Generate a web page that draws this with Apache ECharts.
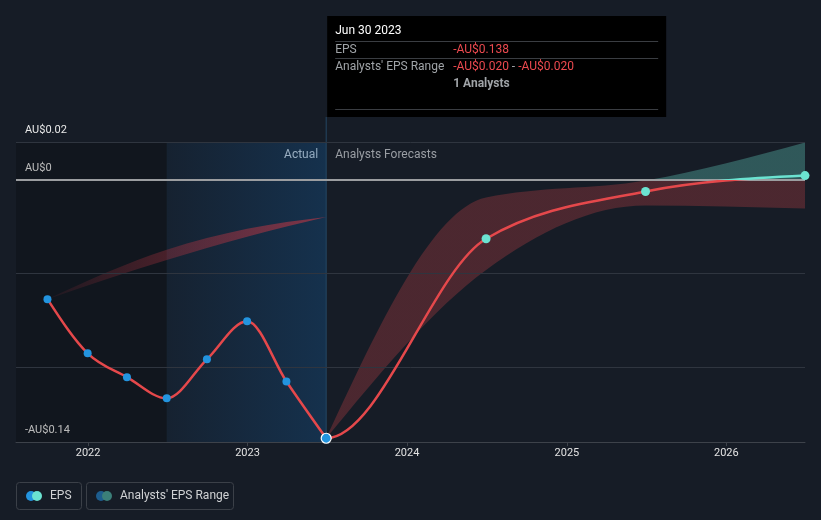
<!DOCTYPE html>
<html><head><meta charset="utf-8">
<script src="https://cdn.jsdelivr.net/npm/echarts@6/dist/echarts.min.js"></script>
<style>html,body{margin:0;padding:0;background:#161c26}#c{width:821px;height:520px}</style>
</head><body><div id="c"></div>
<script>
// ---- data ----
const actualDates = ['2021-09-30','2021-12-31','2022-03-31','2022-06-30','2022-09-30','2022-12-31','2023-03-31','2023-06-30'];
const actualEps = [-0.0638,-0.0927,-0.1054,-0.1167,-0.0959,-0.0756,-0.1077,-0.138];
const forecastDates = ['2023-06-30','2024-06-30','2025-06-30','2026-06-30'];
const forecastEps = [-0.138,-0.0316,-0.0064,0.0021];
const forecastLow = [-0.138,-0.0482,-0.0139,-0.0155];
const forecastHigh = [-0.138,-0.0096,-0.0005,0.0198];
const pastRangeDates = ['2021-09-30','2022-06-30','2022-12-31','2023-06-30'];
const pastLow = [-0.0638,-0.0429,-0.0305,-0.020];
const pastHigh = [-0.0638,-0.0375,-0.0263,-0.020];
const gridValues = [0.02,-0.05,-0.1];
const zeroValue = 0;
const yMin = -0.14, yMax = 0.02;
const yLabelValues = [0.02,0,-0.14];
const yLabelTexts = ['AU$0.02','AU$0','-AU$0.14'];
const darkRegion = ['2021-07-20','2022-06-30'];
const actualRegion = ['2022-06-30','2023-06-30'];
const xRange = ['2021-07-20','2026-06-30'];
const highlightDate = '2023-06-30';

const P = s => echarts.time.parse(s);
const pair = (d, v) => d.map((x, i) => [P(x), v[i]]);

const RED = '#e5484b', TEAL = '#6be3d1', BLUE = '#2394df';

// monotone-x cubic helpers (pixel space)
function tangents(pts) {
  const n = pts.length, h = [], s = [], t = new Array(n).fill(0);
  for (let i = 0; i < n - 1; i++) { h[i] = pts[i + 1][0] - pts[i][0]; s[i] = (pts[i + 1][1] - pts[i][1]) / h[i]; }
  const sg = x => x < 0 ? -1 : 1;
  for (let i = 1; i < n - 1; i++) {
    const p = (s[i - 1] * h[i] + s[i] * h[i - 1]) / (h[i - 1] + h[i]);
    t[i] = (sg(s[i - 1]) + sg(s[i])) * Math.min(Math.abs(s[i - 1]), Math.abs(s[i]), 0.5 * Math.abs(p)) || 0;
  }
  if (n === 2) { t[0] = t[1] = s[0]; } else { t[0] = (3 * s[0] - t[1]) / 2; t[n - 1] = (3 * s[n - 2] - t[n - 2]) / 2; }
  return t;
}
function curve(pts, start, t) {
  let d = '';
  for (let i = start; i < pts.length - 1; i++) {
    const [x0, y0] = pts[i], [x1, y1] = pts[i + 1], dx = (x1 - x0) / 3;
    d += ' C' + (x0 + dx) + ',' + (y0 + dx * t[i]) + ' ' + (x1 - dx) + ',' + (y1 - dx * t[i + 1]) + ' ' + x1 + ',' + y1;
  }
  return d;
}
function curveBack(pts, t) {
  let d = '';
  for (let i = pts.length - 2; i >= 0; i--) {
    const [x0, y0] = pts[i], [x1, y1] = pts[i + 1], dx = (x1 - x0) / 3;
    d += ' C' + (x1 - dx) + ',' + (y1 - dx * t[i + 1]) + ' ' + (x0 + dx) + ',' + (y0 + dx * t[i]) + ' ' + x0 + ',' + y0;
  }
  return d;
}
function splitGrad(api, above, below) {
  const y0 = api.coord([0, yMax])[1], y1 = api.coord([0, yMin])[1], yz = api.coord([0, zeroValue])[1];
  const f = (yz - y0) / (y1 - y0);
  return {type: 'linear', global: true, x: 0, y: y0, x2: 0, y2: y1,
    colorStops: [{offset: 0, color: above}, {offset: f, color: above}, {offset: f, color: below}, {offset: 1, color: below}]};
}
function lineSeries(dates, vals, ctxDates, ctxVals, strokeFn, z) {
  return {
    type: 'custom', coordinateSystem: 'cartesian2d', silent: true, clip: false, z,
    data: [[P(dates[0]), vals[0]]],
    renderItem: (params, api) => {
      const all = pair(ctxDates.concat(dates), ctxVals.concat(vals)).map(p => api.coord(p));
      const t = tangents(all), k = ctxDates.length;
      return {type: 'path', shape: {pathData: 'M' + all[k][0] + ',' + all[k][1] + curve(all, k, t)},
        style: {fill: 'none', stroke: strokeFn(api), lineWidth: 2.5, lineJoin: 'round', lineCap: 'round'}};
    }
  };
}
function bandSeries(dates, lo, hi, fillFn, z) {
  return {
    type: 'custom', coordinateSystem: 'cartesian2d', silent: true, clip: false, z,
    data: [[P(dates[0]), lo[0]]],
    renderItem: (params, api) => {
      const up = pair(dates, hi).map(p => api.coord(p));
      const dn = pair(dates, lo).map(p => api.coord(p));
      const n = up.length;
      const d = 'M' + up[0][0] + ',' + up[0][1] + curve(up, 0, tangents(up)) +
        ' L' + dn[n - 1][0] + ',' + dn[n - 1][1] + curveBack(dn, tangents(dn)) + ' Z';
      return {type: 'path', shape: {pathData: d}, style: {fill: fillFn(api), stroke: 'none'}};
    }
  };
}

const chart = echarts.init(document.getElementById('c'));
const actualMarks = pair(actualDates, actualEps).map((p, i, a) => i === a.length - 1
  ? {value: p, symbolSize: 10, itemStyle: {color: BLUE, borderColor: '#ffffff', borderWidth: 1.2}} : p);

chart.setOption({
  backgroundColor: '#161c26',
  animation: false,
  textStyle: {fontFamily: 'Roboto'},
  grid: {left: 16, right: 16, top: 142, bottom: 78},
  xAxis: {
    type: 'time', min: P(xRange[0]), max: P(xRange[1]),
    minInterval: 365 * 864e5, maxInterval: 366 * 864e5,
    axisLine: {onZero: false, lineStyle: {color: '#3d424a', width: 1}},
    axisTick: {show: true, length: 4, lineStyle: {color: '#3d424a'}},
    axisLabel: {formatter: '{yyyy}', color: '#e2e2e2', fontSize: 11, margin: 6},
    splitLine: {show: false}
  },
  yAxis: {
    type: 'value', min: yMin, max: yMax, interval: 0.01,
    splitLine: {show: false}, axisLine: {show: false}, axisTick: {show: false},
    axisLabel: {
      inside: true, margin: 9, color: '#e8e8e8', fontSize: 11,
      verticalAlign: 'bottom', padding: [0, 0, 6, 0],
      formatter: v => {
        const i = yLabelValues.findIndex(t => Math.round(t * 100) === Math.round(v * 100));
        return i >= 0 ? yLabelTexts[i] : '';
      }
    }
  },
  series: [
    bandSeries(pastRangeDates, pastLow, pastHigh, api => {
      const x0 = api.coord([P(pastRangeDates[0]), 0])[0], x1 = api.coord([P(pastRangeDates[pastRangeDates.length - 1]), 0])[0];
      return {type: 'linear', global: true, x: x0, y: 0, x2: x1, y2: 0,
        colorStops: [{offset: 0, color: 'rgba(200,55,68,0.08)'}, {offset: 1, color: 'rgba(200,55,68,0.6)'}]};
    }, 3),
    bandSeries(forecastDates, forecastLow, forecastHigh, api => splitGrad(api, 'rgba(107,227,209,0.3)', 'rgba(229,72,75,0.26)'), 3),
    lineSeries(actualDates, actualEps, [], [], () => RED, 6),
    lineSeries(forecastDates, forecastEps, actualDates.slice(-2, -1), actualEps.slice(-2, -1), api => splitGrad(api, TEAL, RED), 6),
    { // actual markers; hosts shaded regions and grid lines
      type: 'scatter', data: actualMarks, symbolSize: 8, itemStyle: {color: BLUE, opacity: 1}, z: 8, silent: true,
      markArea: {
        silent: true,
        data: [
          [{xAxis: P(darkRegion[0]), itemStyle: {color: 'rgba(0,0,0,0.2)'}}, {xAxis: P(darkRegion[1])}],
          [{xAxis: P(actualRegion[0]), itemStyle: {color: {type: 'linear', x: 0, y: 0, x2: 1, y2: 0,
            colorStops: [{offset: 0, color: 'rgba(20,75,125,0.12)'}, {offset: 1, color: 'rgba(20,75,125,0.45)'}]}}},
           {xAxis: P(actualRegion[1])}]
        ]
      },
      markLine: {
        silent: true, symbol: 'none', label: {show: false},
        data: gridValues.map(v => ({yAxis: v, lineStyle: {color: '#2f353f', width: 1, type: 'solid', opacity: 1}}))
          .concat([{yAxis: zeroValue, lineStyle: {color: '#9b9da0', width: 2, type: 'solid', opacity: 1}}])
      }
    },
    { // forecast markers
      type: 'scatter', data: pair(forecastDates.slice(1), forecastEps.slice(1)),
      symbolSize: 9, itemStyle: {color: TEAL, opacity: 1}, z: 8, silent: true
    }
  ]
});

const xDiv = chart.convertToPixel({xAxisIndex: 0}, P(highlightDate));
const yTop = chart.convertToPixel({yAxisIndex: 0}, yMax);
const yBot = chart.convertToPixel({yAxisIndex: 0}, yMin);

const grey = '#a0a4a8';
const txt = (x, y, text, fill, extra) => ({type: 'text', x, y,
  style: Object.assign({text, fill, fontSize: 12, fontFamily: 'Roboto', verticalAlign: 'middle'}, extra || {})});
const hline = (x1, x2, y, c) => ({type: 'line', shape: {x1, y1: y, x2, y2: y}, style: {stroke: c, lineWidth: 1}});
const lift = o => Object.assign(o, {z: 11});

chart.setOption({
  graphic: [
    {type: 'line', shape: {x1: xDiv, y1: 117, x2: xDiv, y2: yBot}, style: {stroke: '#244764', lineWidth: 1}, z: 1},
    txt(xDiv - 8, yTop + 13, 'Actual', '#e8e8e8', {align: 'right'}),
    txt(xDiv + 9, yTop + 13, 'Analysts Forecasts', '#9a9ea4'),
    {type: 'rect', shape: {x: xDiv + 1, y: 16, width: 339, height: 101}, style: {fill: '#000000'}, z: 10},
    lift(txt(xDiv + 9, 31, 'Jun 30 2023', '#ffffff')),
    lift(hline(xDiv + 9, xDiv + 332, 41.5, '#3a3d42')),
    lift(txt(xDiv + 9, 49.5, 'EPS', grey)),
    lift(txt(xDiv + 127, 49.5, '-AU$0.138', '#ec4a4f')),
    lift(hline(xDiv + 9, xDiv + 332, 58.5, '#3a3d42')),
    lift(txt(xDiv + 9, 66.5, "Analysts' EPS Range", grey)),
    lift({type: 'text', x: xDiv + 127, y: 66.5, style: {
      text: '{r|-AU$0.020}{g| - }{r|-AU$0.020}', fontSize: 12, fontFamily: 'Roboto', verticalAlign: 'middle',
      rich: {r: {fill: '#ec4a4f', fontSize: 12, fontFamily: 'Roboto'}, g: {fill: grey, fontSize: 12, fontFamily: 'Roboto'}}}}),
    lift(txt(xDiv + 127, 83.5, '1 Analysts', grey, {fontWeight: 'bold'})),
    lift(hline(xDiv + 9, xDiv + 332, 109.5, '#3a3d42')),
    // legend
    {type: 'rect', shape: {x: 16.5, y: 482.5, width: 65, height: 27, r: 3}, style: {fill: 'transparent', stroke: '#3b4048', lineWidth: 1}},
    {type: 'circle', shape: {cx: 31, cy: 496, r: 5}, style: {fill: BLUE}},
    {type: 'circle', shape: {cx: 37, cy: 496, r: 5}, style: {fill: TEAL}},
    txt(50, 496, 'EPS', '#d0d2d4'),
    {type: 'rect', shape: {x: 86.5, y: 482.5, width: 147, height: 27, r: 3}, style: {fill: 'transparent', stroke: '#3b4048', lineWidth: 1}},
    {type: 'circle', shape: {cx: 101, cy: 496, r: 5}, style: {fill: '#1d5d8e'}},
    {type: 'circle', shape: {cx: 107, cy: 496, r: 5}, style: {fill: '#3b7f79'}},
    txt(120, 496, "Analysts' EPS Range", '#d0d2d4')
  ]
});
</script></body></html>
